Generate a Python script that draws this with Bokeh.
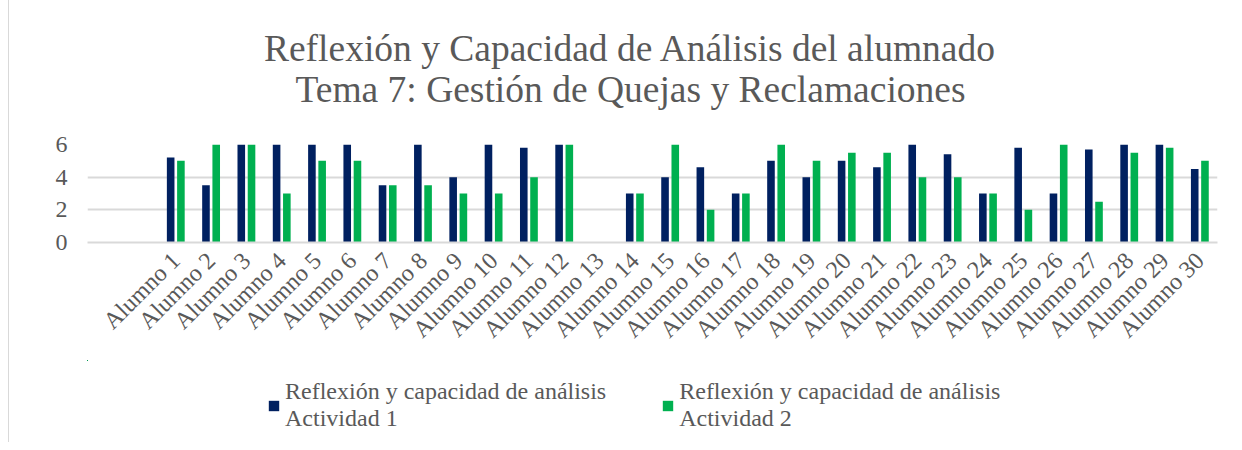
from bokeh.plotting import figure
from bokeh.layouts import column
from bokeh.models import Range1d, FixedTicker, Legend, LegendItem, Label
from bokeh.embed import file_html
from bokeh.resources import INLINE

# ---- data ----
categories = [f"Alumno {i}" for i in range(1, 31)]
actividad1 = [5.2, 3.5, 6, 6, 6, 6, 3.5, 6, 4, 6, 5.8, 6, 0, 3, 4,
              4.6, 3, 5, 4, 5, 4.6, 6, 5.4, 3, 5.8, 3, 5.7, 6, 6, 4.5]
actividad2 = [5, 6, 6, 3, 5, 5, 3.5, 3.5, 3, 3, 4, 6, 0, 3, 6,
              2, 3, 6, 5, 5.5, 5.5, 4, 4, 3, 2, 6, 2.5, 5.5, 5.8, 5]
y_ticks = [0, 2, 4, 6]
series_names = ["Reflexión y capacidad de análisis\nActividad 1",
                "Reflexión y capacidad de análisis\nActividad 2"]
title_line1 = "Reflexión y Capacidad de Análisis del alumnado"
title_line2 = "Tema 7: Gestión de Quejas y Reclamaciones"

DARK = "#002060"
GREEN = "#00B050"
GREY_TXT = "#595959"
GRID = "#D9D9D9"
FONT = "Liberation Serif"

xs = list(range(1, len(categories) + 1))

W = 1226
BL, BR = 78, 18   # left / right borders -> plot frame at page x 87..1217
T_H = 116         # title strip height

def strip(height, y_top, y_bottom):
    f = figure(width=W, height=height, output_backend="svg", toolbar_location=None,
               x_range=Range1d(87, 1217), y_range=Range1d(y_bottom, y_top),
               min_border_left=BL, min_border_right=BR, min_border_top=0,
               min_border_bottom=0)
    f.title = None
    f.outline_line_color = None
    f.axis.visible = False
    f.grid.visible = False
    return f

# ---- title strip (page pixel coordinates, y downwards) ----
t = strip(T_H, 0, T_H)
for txt, yb in ((title_line1, 48), (title_line2, 89)):
    t.add_layout(Label(x=630, y=yb, text=txt, text_align="center",
                       text_baseline="alphabetic", text_font=FONT,
                       text_font_size="37.5px", text_color=GREY_TXT))

# ---- main chart ----
p = figure(width=W, height=360 - T_H, output_backend="svg", toolbar_location=None,
           x_range=Range1d(-1.5, 30.5), y_range=Range1d(0, 6),
           min_border_left=BL, min_border_right=BR, min_border_top=144 - T_H,
           min_border_bottom=118)
p.title = None
p.outline_line_color = None

r1 = p.vbar(x=[x - 0.145 for x in xs], top=actividad1, width=0.215,
            fill_color=DARK, line_color=None)
r2 = p.vbar(x=[x + 0.145 for x in xs], top=actividad2, width=0.215,
            fill_color=GREEN, line_color=None)

p.yaxis.ticker = FixedTicker(ticks=y_ticks)
p.yaxis.axis_line_color = None
p.yaxis.major_tick_line_color = None
p.yaxis.major_tick_out = 0
p.yaxis.major_tick_in = 0
p.yaxis.minor_tick_line_color = None
p.yaxis.major_label_standoff = 20
p.yaxis.major_label_text_font = FONT
p.yaxis.major_label_text_font_size = "24px"
p.yaxis.major_label_text_color = GREY_TXT

p.xaxis.ticker = FixedTicker(ticks=xs)
p.xaxis.major_label_overrides = {x: c for x, c in zip(xs, categories)}
p.xaxis.major_label_orientation = 0.785398
p.xaxis.axis_line_color = GRID
p.xaxis.axis_line_width = 2
p.xaxis.major_tick_line_color = None
p.xaxis.major_tick_out = 0
p.xaxis.major_tick_in = 0
p.xaxis.minor_tick_line_color = None
p.xaxis.major_label_standoff = 14
p.xaxis.major_label_text_font = FONT
p.xaxis.major_label_text_font_size = "24px"
p.xaxis.major_label_text_color = GREY_TXT

p.xgrid.grid_line_color = None
p.ygrid.grid_line_color = GRID
p.ygrid.grid_line_width = 2

# ---- legend strip ----
q = strip(82, 360, 442)
# same series, outside this strip's visible range: only their legend swatches show
l1 = q.vbar(x=xs, top=actividad1, width=0.215, fill_color=DARK, line_color=None)
l2 = q.vbar(x=xs, top=actividad2, width=0.215, fill_color=GREEN, line_color=None)

legend = Legend(items=[LegendItem(label=series_names[0], renderers=[l1]),
                       LegendItem(label=series_names[1], renderers=[l2])],
                orientation="horizontal", location=(180, 10))
legend.padding = 0
legend.margin = 0
legend.spacing = 55
legend.border_line_color = None
legend.background_fill_alpha = 0
legend.glyph_width = 13
legend.glyph_height = 13
legend.label_standoff = 5
legend.label_text_font = FONT
legend.label_text_font_size = "24px"
legend.label_text_line_height = 1.25
legend.label_text_color = GREY_TXT
q.add_layout(legend, "center")

layout = column(t, p, q, spacing=0,
                styles={"margin-left": "8px", "border-left": "1px solid #D9D9D9"})
open("out.html", "w").write(file_html(layout, INLINE))
